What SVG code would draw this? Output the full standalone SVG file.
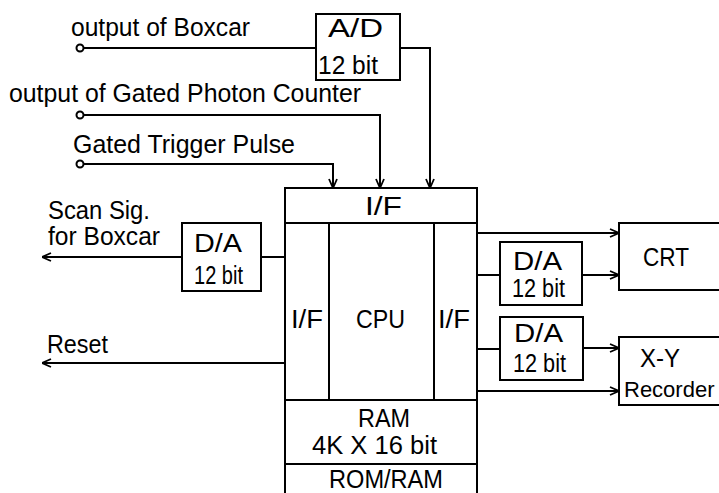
<svg xmlns="http://www.w3.org/2000/svg" width="719" height="493" viewBox="0 0 719 493">
<style>
  .box{fill:#fff;stroke:#000;stroke-width:2}
  .ln{fill:none;stroke:#000;stroke-width:2}
  .t{font-family:"Liberation Sans",Arial,sans-serif;font-size:25px;fill:#000}
</style>
<defs>
  <marker id="arr" viewBox="0 0 10 10" refX="10" refY="5" markerWidth="10" markerHeight="10" markerUnits="userSpaceOnUse" orient="auto">
    <path d="M1,1 L10,5 L1,9" fill="none" stroke="#000" stroke-width="1.8"/>
  </marker>
</defs>
<rect width="719" height="493" fill="#fff"/>
<g id="connectors">
  <path class="ln" d="M83.5,48 H316"/>
  <path class="ln" d="M400,48 H430 V188" marker-end="url(#arr)"/>
  <path class="ln" d="M83.5,115 H380 V188" marker-end="url(#arr)"/>
  <path class="ln" d="M83.5,164 H333 V188" marker-end="url(#arr)"/>
  <path class="ln" d="M285,257 H261"/>
  <path class="ln" d="M182,257 H42" marker-end="url(#arr)"/>
  <path class="ln" d="M285,363 H42" marker-end="url(#arr)"/>
  <path class="ln" d="M477,233 H619" marker-end="url(#arr)"/>
  <path class="ln" d="M477,275 H500"/>
  <path class="ln" d="M582,275 H619" marker-end="url(#arr)"/>
  <path class="ln" d="M477,349 H500"/>
  <path class="ln" d="M583,348 H619" marker-end="url(#arr)"/>
  <path class="ln" d="M477,391 H619" marker-end="url(#arr)"/>
</g>
<g id="in_boxcar">
  <circle class="box" cx="80" cy="48" r="3.5"/>
  <text class="t" x="71" y="36" textLength="179" lengthAdjust="spacingAndGlyphs">output of Boxcar</text>
</g>
<g id="in_photon">
  <circle class="box" cx="80" cy="115" r="3.5"/>
  <text class="t" x="9" y="102" textLength="352" lengthAdjust="spacingAndGlyphs">output of Gated Photon Counter</text>
</g>
<g id="in_trigger">
  <circle class="box" cx="80" cy="164" r="3.5"/>
  <text class="t" x="73" y="153" textLength="222" lengthAdjust="spacingAndGlyphs">Gated Trigger Pulse</text>
</g>
<g id="ad">
  <rect class="box" x="316" y="14" width="84" height="66"/>
  <text class="t" x="328" y="37" textLength="55" lengthAdjust="spacingAndGlyphs">A/D</text>
  <text class="t" x="318" y="74" textLength="60" lengthAdjust="spacingAndGlyphs">12 bit</text>
</g>
<g id="out_scan">
  <text class="t" x="48" y="219" textLength="102" lengthAdjust="spacingAndGlyphs">Scan Sig.</text>
  <text class="t" x="48" y="245" textLength="112" lengthAdjust="spacingAndGlyphs">for Boxcar</text>
</g>
<g id="out_reset">
  <text class="t" x="47" y="353" textLength="61" lengthAdjust="spacingAndGlyphs">Reset</text>
</g>
<g id="da_scan">
  <rect class="box" x="182" y="223" width="79" height="68"/>
  <text class="t" x="194" y="252" textLength="48" lengthAdjust="spacingAndGlyphs">D/A</text>
  <text class="t" x="194" y="284" textLength="49" lengthAdjust="spacingAndGlyphs">12 bit</text>
</g>
<g id="main">
  <rect class="box" x="285" y="188" width="192" height="330"/>
  <path class="ln" d="M285,223 H477 M329,223 V400 M434,223 V400 M285,400 H477 M285,464 H477"/>
  <text class="t" x="365" y="215" textLength="37" lengthAdjust="spacingAndGlyphs">I/F</text>
  <text class="t" x="291" y="328" textLength="32" lengthAdjust="spacingAndGlyphs">I/F</text>
  <text class="t" x="356" y="328" textLength="49" lengthAdjust="spacingAndGlyphs">CPU</text>
  <text class="t" x="438" y="328" textLength="32" lengthAdjust="spacingAndGlyphs">I/F</text>
  <text class="t" x="358" y="427" textLength="52" lengthAdjust="spacingAndGlyphs">RAM</text>
  <text class="t" x="312" y="454" textLength="125" lengthAdjust="spacingAndGlyphs">4K X 16 bit</text>
  <text class="t" x="329" y="488" textLength="114" lengthAdjust="spacingAndGlyphs">ROM/RAM</text>
</g>
<g id="da_crt">
  <rect class="box" x="500" y="242" width="82" height="63"/>
  <text class="t" x="513" y="270" textLength="49" lengthAdjust="spacingAndGlyphs">D/A</text>
  <text class="t" x="512" y="297" textLength="53" lengthAdjust="spacingAndGlyphs">12 bit</text>
</g>
<g id="da_xy">
  <rect class="box" x="500" y="317" width="83" height="63"/>
  <text class="t" x="514" y="342" textLength="49" lengthAdjust="spacingAndGlyphs">D/A</text>
  <text class="t" x="513" y="372" textLength="53" lengthAdjust="spacingAndGlyphs">12 bit</text>
</g>
<g id="crt">
  <path class="ln" d="M719,223 H619 V290 H719"/>
  <text class="t" x="643" y="266" textLength="46" lengthAdjust="spacingAndGlyphs">CRT</text>
</g>
<g id="xy">
  <path class="ln" d="M719,337 H619 V405 H719"/>
  <text class="t" x="640" y="367" textLength="40" lengthAdjust="spacingAndGlyphs">X-Y</text>
  <text class="t" x="624" y="397" style="font-size:22px">Recorder</text>
</g>
</svg>
